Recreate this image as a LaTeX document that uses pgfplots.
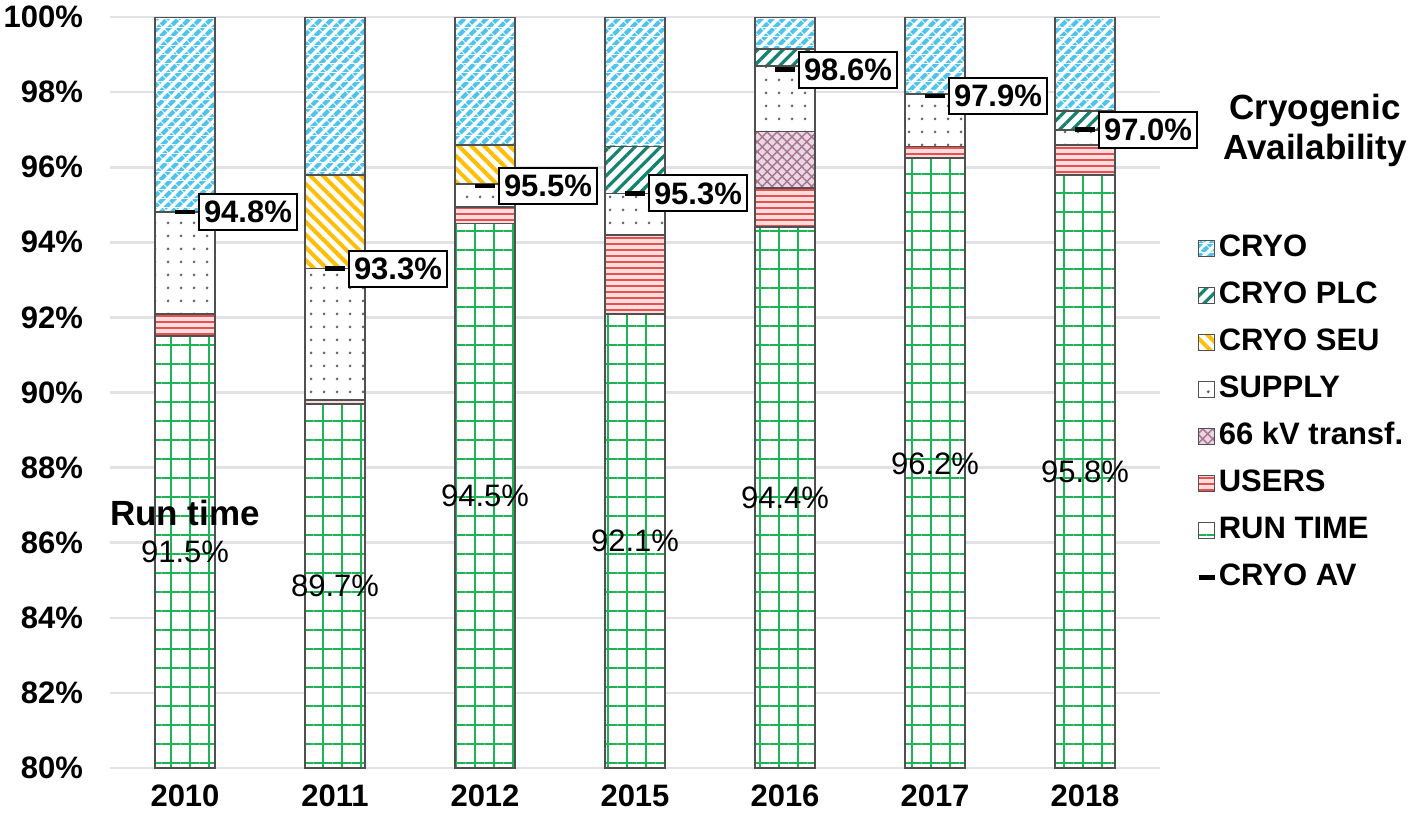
\documentclass[border=0pt]{standalone}
\usepackage{pgfplots}
\pgfplotsset{compat=1.18}
\usepackage{pgfplotstable}
\usepackage{fontspec}
\setmainfont{Liberation Sans}
\usetikzlibrary{patterns.meta}
\definecolor{runGreen}{RGB}{30,180,85}
\definecolor{usersRed}{RGB}{232,80,80}
\definecolor{usersPink}{RGB}{252,220,220}
\definecolor{kvMauve}{RGB}{165,115,145}
\definecolor{kvPink}{RGB}{235,215,225}
\definecolor{supplyGray}{RGB}{100,100,100}
\definecolor{seuYellow}{RGB}{255,190,0}
\definecolor{plcTeal}{RGB}{20,130,110}
\definecolor{cryoBlue}{RGB}{80,195,235}
\definecolor{gridGray}{RGB}{225,225,230}
\definecolor{barEdge}{RGB}{80,80,80}

\tikzset{
 runS/.style={fill=white, postaction={pattern={Hatch[angle=0,distance=9.5pt,line width=1.2pt]}, pattern color=runGreen}},
 usersS/.style={fill=usersPink, postaction={pattern={Lines[angle=0,distance=3pt,line width=1.2pt]}, pattern color=usersRed}},
 kvS/.style={fill=kvPink, postaction={pattern={Hatch[angle=45,distance=3.5pt,line width=0.7pt]}, pattern color=kvMauve}},
 supplyS/.style={fill=white, postaction={pattern={Dots[distance=6.5pt,radius=0.8pt]}, pattern color=supplyGray}},
 seuS/.style={fill=white, postaction={pattern={Lines[angle=-45,distance=4.5pt,line width=2pt]}, pattern color=seuYellow}},
 plcS/.style={fill=white, postaction={pattern={Lines[angle=45,distance=4.5pt,line width=1.6pt]}, pattern color=plcTeal}},
 cryoS/.style={fill=white, postaction={pattern={Lines[angle=45,distance=4pt,line width=2.3pt]}, pattern color=cryoBlue}, postaction={pattern={Lines[angle=0,distance=4.5pt,line width=0.5pt]}, pattern color=white}},
}

\pgfplotstableread{
x run users kv supply seu plc cryo
0 91.5 0.6 0 2.7 0 0 5.2
1 89.7 0.1 0 3.5 2.5 0 4.2
2 94.5 0.45 0 0.6 1.05 0 3.4
3 92.1 2.1 0 1.1 0 1.25 3.45
4 94.4 1.05 1.5 1.75 0 0.45 0.85
5 96.25 0.3 0 1.4 0 0 2.05
6 95.8 0.8 0 0.4 0 0.5 2.5
}\datatable

\newcommand{\lblfont}{\fontsize{15.5}{18}\selectfont\bfseries}
\newcommand{\bigfont}{\fontsize{17.5}{20}\selectfont\bfseries}

\begin{document}
\begin{tikzpicture}
\path[use as bounding box] (-55pt,-26pt) rectangle (653pt,384pt);
\begin{axis}[
  scale only axis, width=525pt, height=375.5pt,
  xmin=-0.5, xmax=6.5, ymin=80, ymax=100,
  ybar stacked, bar width=30pt,
  xtick={0,...,6}, xticklabels={2010,2011,2012,2015,2016,2017,2018},
  ytick={80,82,...,100},
  yticklabel={\pgfmathprintnumber{\tick}\%},
  /pgf/number format/assume math mode=true,
  ymajorgrids, major grid style={gridGray, line width=1.3pt},
  axis line style={draw=none},
  major tick length=0pt,
  tick label style={font=\lblfont},
  yticklabel style={xshift=-10pt},
  xticklabel style={yshift=-5pt},
]
\addplot[runS, draw=barEdge, line width=0.9pt] table[x=x,y=run]{\datatable};
\addplot[usersS, draw=barEdge, line width=0.9pt] table[x=x,y=users]{\datatable};
\addplot[kvS, draw=barEdge, line width=0.9pt] table[x=x,y=kv]{\datatable};
\addplot[supplyS, draw=barEdge, line width=0.9pt] table[x=x,y=supply]{\datatable};
\addplot[seuS, draw=barEdge, line width=0.9pt] table[x=x,y=seu]{\datatable};
\addplot[plcS, draw=barEdge, line width=0.9pt] table[x=x,y=plc]{\datatable};
\addplot[cryoS, draw=barEdge, line width=0.9pt] table[x=x,y=cryo]{\datatable};
\end{axis}
\begin{axis}[
  scale only axis, width=525pt, height=375.5pt,
  xmin=-0.5, xmax=6.5, ymin=80, ymax=100,
  hide axis, clip=false,
  legend style={at={(1.0286,0.719)}, anchor=north west, draw=none, fill=none,
    font=\lblfont, row sep=7.5pt, nodes={inner sep=1pt, text height=11pt, text depth=3pt}},
  legend cell align=left,
]
% run time labels (centre of run-time segment)
\addplot[draw=none, mark=none, forget plot, point meta=explicit symbolic, nodes near coords,
  every node near coord/.append style={anchor=center, font=\fontsize{15.5}{18}\selectfont, text=black},
  y filter/.expression={(y+80)/2}]
  coordinates {(0,91.5)[91.5\%] (1,89.7)[89.7\%] (2,94.5)[94.5\%] (3,92.1)[92.1\%] (4,94.4)[94.4\%] (5,96.2)[96.2\%] (6,95.8)[95.8\%]};
% CRYO AV
\addplot[only marks, forget plot, mark=-, mark size=5pt, mark options={line width=2.2pt, draw=black},
  point meta=explicit symbolic, nodes near coords,
  every node near coord/.append style={anchor=west, xshift=6.5pt, draw=black, line width=1pt, fill=white, inner xsep=2.5pt, inner ysep=3.5pt, font=\lblfont, text=black}]
  coordinates {(0,94.8)[94.8\%] (1,93.3)[93.3\%] (2,95.5)[95.5\%] (3,95.3)[95.3\%] (4,98.6)[98.6\%] (5,97.9)[97.9\%] (6,97.0)[97.0\%]};
\node[font=\bigfont] at (axis cs:0,86.8) {Run time};
\node[font=\bigfont, align=center] at (rel axis cs:1.1476,0.8495) {Cryogenic\\Availability};
\addlegendimage{legend image code/.code={\draw[cryoS, draw=barEdge, line width=0.6pt] (0pt,-4pt) rectangle (8pt,4pt);}}
\addlegendentry{CRYO}
\addlegendimage{legend image code/.code={\draw[plcS, draw=barEdge, line width=0.6pt] (0pt,-4pt) rectangle (8pt,4pt);}}
\addlegendentry{CRYO PLC}
\addlegendimage{legend image code/.code={\draw[seuS, draw=barEdge, line width=0.6pt] (0pt,-4pt) rectangle (8pt,4pt);}}
\addlegendentry{CRYO SEU}
\addlegendimage{legend image code/.code={\draw[supplyS, draw=barEdge, line width=0.6pt] (0pt,-4pt) rectangle (8pt,4pt);}}
\addlegendentry{SUPPLY}
\addlegendimage{legend image code/.code={\draw[kvS, draw=barEdge, line width=0.6pt] (0pt,-4pt) rectangle (8pt,4pt);}}
\addlegendentry{66 kV transf.}
\addlegendimage{legend image code/.code={\draw[usersS, draw=barEdge, line width=0.6pt] (0pt,-4pt) rectangle (8pt,4pt);}}
\addlegendentry{USERS}
\addlegendimage{legend image code/.code={\draw[runS, draw=barEdge, line width=0.6pt] (0pt,-4pt) rectangle (8pt,4pt);}}
\addlegendentry{RUN TIME}
\addlegendimage{legend image code/.code={\draw[black, line width=2.2pt] (0pt,0pt) -- (8pt,0pt);}}
\addlegendentry{CRYO AV}
\end{axis}
\end{tikzpicture}
\end{document}
